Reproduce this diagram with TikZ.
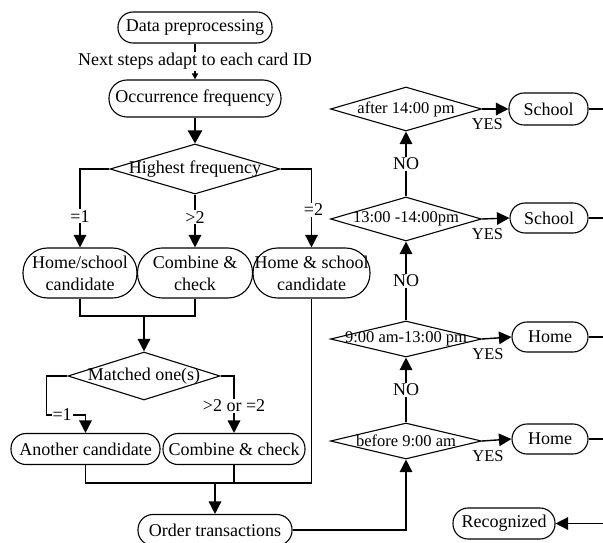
\documentclass[tikz,border=0pt]{standalone}
\usepackage{fontspec}
\setmainfont{Liberation Serif}
\usetikzlibrary{shapes}
\usetikzlibrary{arrows.meta}

\newcommand{\bigtxt}{\fontsize{18bp}{22bp}\selectfont}
\newcommand{\smalltxt}{\fontsize{16.5bp}{18bp}\selectfont}

\tikzset{
  term/.style={draw, rectangle, rounded corners=15bp, line width=1.1bp, minimum height=31bp, inner sep=1bp},
  termtwo/.style={term, rounded corners=24.5bp, minimum height=50bp, align=center},
  decide/.style={draw, diamond, line width=1.1bp, inner sep=0pt},
  lbl/.style={fill=white, inner sep=1bp},
  yes/.style={anchor=north, yshift=-9bp, pos=0.2, font=\smalltxt, inner sep=0pt},
  wire/.style={line width=1.4bp},
  flow/.style={wire, -{Triangle[length=12.5bp,width=12.5bp]}},
}

\begin{document}
\begin{tikzpicture}[x=1bp, y=-1bp, font=\bigtxt]
    \useasboundingbox (0,0) rectangle (603,543);
    \coordinate (edge) at (603,0);
    % Left column
    \node[term, minimum width=154bp] (prep) at (195,27.5) {Data preprocessing};
    \node[term, minimum width=172bp, minimum height=37bp, rounded corners=18bp] (occ) at (195,98.5) {Occurrence frequency};
    \node[decide, minimum width=170bp, minimum height=50bp, label=center:Highest frequency] (high) at (195,169) {};
    \node[termtwo, minimum width=114bp] (hsc) at (80,273) {Home/school\\candidate};
    \node[termtwo, minimum width=115bp] (comb) at (195,273) {Combine \&\\check};
    \node[termtwo, minimum width=117bp] (hnsc) at (311.5,273) {Home \& school\\candidate};
    \node[decide, minimum width=152bp, minimum height=48bp, label=center:Matched one(s)] (match) at (144,376) {};
    \node[term, minimum width=149bp] (other) at (85.5,449) {Another candidate};
    \node[term, minimum width=142bp] (combtwo) at (234,449) {Combine \& check};
    \node[term, minimum width=154bp] (order) at (215,530) {Order transactions};
    % Right column
    \node[decide, minimum width=151bp, minimum height=36bp, label={[font=\smalltxt]center:before 9:00 am}] (early) at (406,441) {};
    \node[decide, minimum width=151bp, minimum height=36bp, label={[font=\smalltxt]center:9:00 am-13:00 pm}] (noon) at (406,339) {};
    \node[decide, minimum width=151bp, minimum height=44bp, label={[font=\smalltxt]center:13:00 -14:00pm}] (after) at (406,219) {};
    \node[decide, minimum width=151bp, minimum height=44bp, label={[font=\smalltxt]center:after 14:00 pm}] (late) at (406,109) {};
    \node[term, minimum width=76bp, minimum height=30bp] (homeA) at (550,439) {Home};
    \node[term, minimum width=76bp, minimum height=30bp] (homeB) at (550,337) {Home};
    \node[term, minimum width=78bp, minimum height=30bp] (schoolA) at (549,218) {School};
    \node[term, minimum width=79bp, minimum height=32bp] (schoolB) at (548.5,109) {School};
    \node[term, minimum width=102bp] (recog) at (504,523.5) {Recognized};
    % Top connectors
    \draw[wire, -{Triangle[length=6bp,width=6bp]}] (prep) -- node[lbl] {Next steps adapt to each card ID} (occ);
    \draw[line width=2.6bp, -{Triangle[length=13bp,width=14bp]}] (occ) -- (high);
    \draw[flow] (high.west) -| node[lbl, pos=0.8] {=1} (hsc.north);
    \draw[flow] (high.south) -- node[lbl, pos=0.43] {>2} (comb.north);
    \draw[flow] (high.east) -| node[lbl, pos=0.76, xshift=2bp] {=2} (hnsc.north);
    % Merge and second decision
    \coordinate (joinA) at (144,316);
    \draw[wire] (hsc.south) |- (joinA) -| (comb.south);
    \draw[flow] (joinA) -- (match.north);
    \draw[flow] (match.west) -| ([xshift=-39bp, yshift=18bp]other.north) -- node[lbl, pos=0.4] {=1} ([yshift=18bp]other.north) -- (other.north);
    \draw[flow] (match.east) -| node[lbl, pos=0.76] {>2 or =2} (combtwo.north);
    \coordinate (joinB) at (215,483);
    \draw[wire] (other.south) |- (joinB) -| (hnsc.south);
    \draw[wire] (combtwo.south) -- (combtwo.south |- joinB);
    \draw[flow] (joinB) -- (order.north);
    \draw[flow] (order.east) -| (early.south);
    % Time windows
    \draw[flow] (early) -- node[lbl] {NO} (noon);
    \draw[flow] (noon) -- node[lbl] {NO} (after);
    \draw[flow] (after) -- node[lbl] {NO} (late);
    \draw[flow] (early.east) -- node[yes] {YES} (homeA.west);
    \draw[flow] (noon.east) -- node[yes] {YES} (homeB.west);
    \draw[flow] (after.east) -- node[yes] {YES} (schoolA.west);
    \draw[flow] (late.east) -- node[yes] {YES} (schoolB.west);
    % To the right edge
    \draw[wire] (homeA.east) -- (homeA.east -| edge);
    \draw[wire] (homeB.east) -- (homeB.east -| edge);
    \draw[wire] (schoolA.east) -- (schoolA.east -| edge);
    \draw[wire] (schoolB.east) -- (schoolB.east -| edge);
    \draw[flow] (recog.east -| edge) -- (recog.east);
\end{tikzpicture}
\end{document}
